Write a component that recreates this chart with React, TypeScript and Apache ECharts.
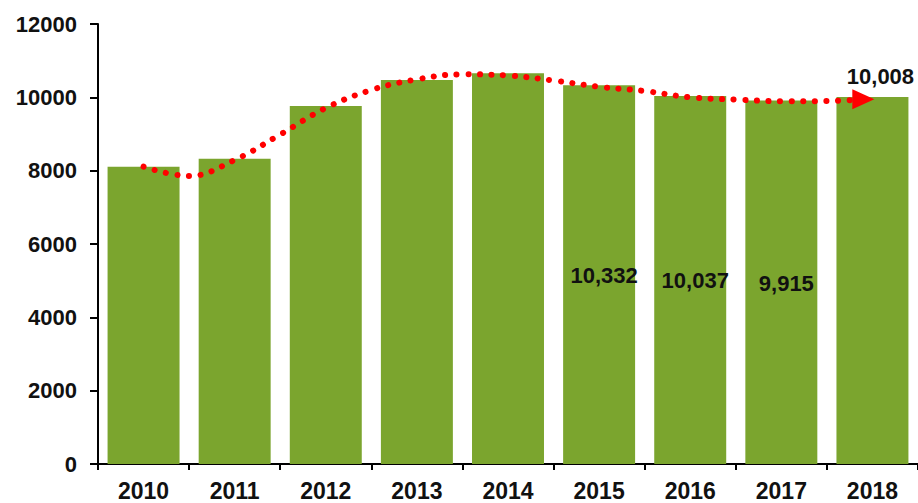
import React, { useEffect, useRef } from "react";
import * as echarts from "echarts";

const years = ["2010", "2011", "2012", "2013", "2014", "2015", "2016", "2017", "2018"];
const barValues = [8108, 8326, 9763, 10472, 10655, 10332, 10037, 9915, 10008];
const labelledYears = ["2015", "2016", "2017"];
const topLabelYear = "2018";
const yTicks = { min: 0, max: 12000, interval: 2000 };

// Red dotted trend line at half-category steps
// (position is the category index, 0 = 2010)
const trendPositions = [0, 0.5, 1, 1.5, 2, 2.5, 3, 3.5, 4, 4.5, 5, 5.5, 6, 6.5, 7, 7.5, 7.9];
const trendValues = [8108, 7855, 8291, 8986, 9709, 10200, 10491, 10628, 10595, 10459, 10287, 10172, 10000, 9940, 9894, 9900, 9945];

const FONT = "'Liberation Sans', Arial, sans-serif";
const fmt = (v: number) => v.toLocaleString("en-US");

export default function App() {
  const ref = useRef<HTMLDivElement>(null);
  useEffect(() => {
    if (!ref.current) return;
    const chart = echarts.init(ref.current, null, { renderer: "svg" });
    const labelBase = {
      show: true,
      formatter: (p: any) => fmt(p.value),
      fontFamily: FONT,
      fontWeight: "bold",
      fontSize: 22,
      color: "#111",
    };
    const barData = barValues.map((v, i) => {
      const y = years[i];
      if (labelledYears.includes(y)) {
        return { value: v, label: { ...labelBase, position: "inside", offset: [5, 1] } };
      }
      if (y === topLabelYear) {
        return { value: v, label: { ...labelBase, position: "top", distance: 10, offset: [8, 0] } };
      }
      return v;
    });
    const lineData = trendPositions.map((x, i) =>
      i === trendPositions.length - 1
        ? {
            value: [x, trendValues[i]],
            symbol: "triangle",
            symbolSize: [20, 22],
            symbolRotate: -90,
            itemStyle: { color: "#ff0000" },
          }
        : [x, trendValues[i]]
    );
    chart.setOption({
      animation: false,
      grid: { left: 98, right: -5, top: 24, bottom: 39 },
      xAxis: [
        {
          type: "category",
          data: years,
          boundaryGap: true,
          axisLine: { lineStyle: { color: "#000", width: 2 } },
          axisTick: { show: true, length: 6, lineStyle: { color: "#000", width: 2 } },
          axisLabel: {
            margin: 15,
            fontFamily: FONT,
            fontWeight: "bold",
            fontSize: 23,
            color: "#111",
          },
        },
        {
          type: "value",
          min: -0.5,
          max: 8.5,
          show: false,
        },
      ],
      yAxis: {
        type: "value",
        min: yTicks.min,
        max: yTicks.max,
        interval: yTicks.interval,
        splitLine: { show: false },
        axisLine: { show: true, onZero: false, lineStyle: { color: "#000", width: 2 } },
        axisTick: { show: true, length: 8, lineStyle: { color: "#000", width: 2 } },
        axisLabel: {
          margin: 21,
          formatter: (v: number) => String(v),
          fontFamily: FONT,
          fontWeight: "bold",
          fontSize: 22,
          color: "#111",
        },
      },
      series: [
        {
          type: "bar",
          data: barData,
          barCategoryGap: "21%",
          itemStyle: { color: "#7ba52e" },
          z: 2,
        },
        {
          type: "line",
          xAxisIndex: 1,
          data: lineData,
          smooth: 0.4,
          symbol: "none",
          showSymbol: true,
          showAllSymbol: true,
          lineStyle: { color: "#ff0000", width: 6, type: [0.1, 11.5], cap: "round" },
          z: 3,
        },
      ],
    });
    return () => chart.dispose();
  }, []);
  return (
    <div
      ref={ref}
      style={{ position: "absolute", left: 0, top: 0, width: 918, height: 503, background: "#fff" }}
    />
  );
}
